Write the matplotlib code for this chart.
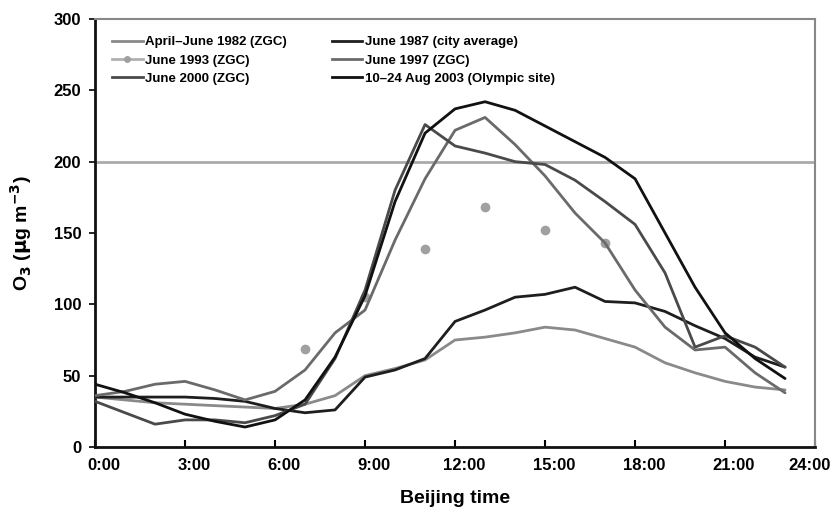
import matplotlib
matplotlib.use("Agg")
import matplotlib.pyplot as plt
import matplotlib.transforms as mtransforms
from matplotlib.lines import Line2D

hours = list(range(24))

o3_1982 = [35, 33, 31, 30, 29, 28, 27, 30, 36, 50, 55, 61, 75, 77, 80, 84, 82, 76, 70, 59, 52, 46, 42, 40]
o3_1987 = [35, 35, 35, 35, 34, 32, 27, 24, 26, 49, 54, 62, 88, 96, 105, 107, 112, 102, 101, 95, 85, 76, 63, 56]
hours_1993 = [7, 9, 11, 13, 15, 17]
o3_1993 = [69, 105, 139, 168, 152, 143]
o3_1997 = [36, 39, 44, 46, 40, 33, 39, 54, 80, 96, 145, 188, 222, 231, 212, 190, 164, 143, 110, 84, 68, 70, 52, 38]
o3_2000 = [32, 24, 16, 19, 19, 17, 22, 30, 62, 110, 180, 226, 211, 206, 200, 198, 187, 172, 156, 122, 70, 78, 70, 56]
o3_2003 = [44, 38, 31, 23, 18, 14, 19, 33, 63, 106, 172, 220, 237, 242, 236, 225, 214, 203, 188, 150, 112, 80, 62, 48]

labels = ["April–June 1982 (ZGC)", "June 1987 (city average)", "June 1993 (ZGC)",
          "June 1997 (ZGC)", "June 2000 (ZGC)", "10–24 Aug 2003 (Olympic site)"]
xtick_vals = [0, 3, 6, 9, 12, 15, 18, 21, 24]
xtick_labels = ["0:00", "3:00", "6:00", "9:00", "12:00", "15:00", "18:00", "21:00", "24:00"]
ytick_vals = [0, 50, 100, 150, 200, 250, 300]
standard = 200

plt.rcParams['font.family'] = ['Liberation Sans', 'DejaVu Sans']

fig = plt.figure(figsize=(8.3, 5.09), dpi=100)
ax = fig.add_axes([0.1145, 0.1218, 0.8675, 0.8409])

ax.axhline(standard, color="#aaaaaa", lw=2, zorder=1)

lw = 2.0
kw = dict(lw=lw, solid_joinstyle="round", solid_capstyle="round")
ax.plot(hours, o3_1982, color="#8a8a8a", zorder=3, **kw)
ax.plot(hours, o3_1987, color="#1e1e1e", zorder=3, **kw)
ax.plot(hours_1993, o3_1993, ls="none", marker="o", ms=7, color="#a0a0a0", mec="none", zorder=3)
ax.plot(hours, o3_1997, color="#6a6a6a", zorder=3, **kw)
ax.plot(hours, o3_2000, color="#4a4a4a", zorder=3, **kw)
ax.plot(hours, o3_2003, color="#111111", zorder=4, **kw)

handles = [
    Line2D([], [], color="#8a8a8a", lw=lw),
    Line2D([], [], color="#b0b0b0", lw=lw, marker="o", ms=5, mec="none", mfc="#a0a0a0"),
    Line2D([], [], color="#4a4a4a", lw=lw),
    Line2D([], [], color="#1e1e1e", lw=lw),
    Line2D([], [], color="#6a6a6a", lw=lw),
    Line2D([], [], color="#111111", lw=lw),
]
hl = [labels[0], labels[2], labels[4], labels[1], labels[3], labels[5]]
leg = ax.legend(handles, hl, ncol=2, loc="upper left", bbox_to_anchor=(0.0, 1.0),
                frameon=False, handlelength=2.3, handletextpad=0.2,
                columnspacing=3.4, labelspacing=0.45, borderaxespad=0.9,
                prop={'weight': 'bold', 'size': 9.5})

ax.set_xlim(0, 24)
ax.set_ylim(0, 300)
ax.set_xticks(xtick_vals)
ax.set_xticklabels(xtick_labels, fontsize=12, fontweight="bold")
ax.set_yticks(ytick_vals)
ax.set_yticklabels([str(v) for v in ytick_vals], fontsize=12, fontweight="bold")
ax.tick_params(axis="x", direction="in", length=5, width=1.5, pad=8)
ax.tick_params(axis="y", direction="out", length=4, width=1.2, pad=6)

offset = mtransforms.ScaledTranslation(9 / 100, 0, fig.dpi_scale_trans)
xl = ax.get_xticklabels()
for lab in xl[:-1]:
    lab.set_transform(lab.get_transform() + offset)
xl[-1].set_transform(xl[-1].get_transform() +
                     mtransforms.ScaledTranslation(-5 / 100, 0, fig.dpi_scale_trans))

for side in ["left", "bottom"]:
    ax.spines[side].set_linewidth(2)
    ax.spines[side].set_color("#111111")
for side in ["top", "right"]:
    ax.spines[side].set_linewidth(1.5)
    ax.spines[side].set_color("#888888")

ax.set_xlabel("Beijing time", fontsize=14, fontweight="bold", labelpad=12)
ax.set_ylabel(r"O$_{\mathbf{3}}$ ($\mathbf{\mu}$g m$^{\mathbf{-3}}$)", fontsize=14,
              fontweight="bold", labelpad=14)

fig.savefig("out.png", dpi=100)
